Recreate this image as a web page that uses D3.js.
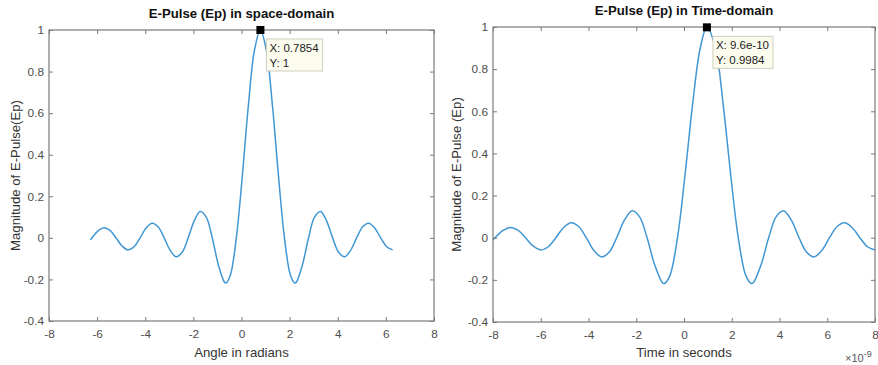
<!DOCTYPE html>
<html>
<head>
<meta charset="utf-8">
<script src="https://cdn.jsdelivr.net/npm/d3@7"></script>
<style>
  html, body { margin: 0; padding: 0; background: #fff; }
  svg { display: block; font-family: "Liberation Sans", Arial, Helvetica, sans-serif; }
</style>
</head>
<body>
<svg id="chart" width="878" height="365"></svg>
<script>
// ---------- DATA ----------
// Left panel: angle (radians) vs magnitude
const angle = [-6.2832,-6.2146,-5.9646,-5.7146,-5.4646,-5.2146,-4.9646,-4.7146,-4.4646,-4.2146,
  -3.9646,-3.7146,-3.4646,-3.2146,-2.9646,-2.7146,-2.4646,-2.2146,-1.9646,-1.7146,-1.4646,-1.2146,
  -0.9646,-0.7146,-0.6446,-0.4646,-0.2146,0.0354,0.2854,0.5354,0.7854,1.0354,1.2854,1.5354,1.7854,
  2.0354,2.2154,2.2854,2.5354,2.7854,3.0354,3.2854,3.5354,3.7854,4.0354,4.2854,4.5354,4.7854,
  5.0354,5.2854,5.5354,5.7854,6.0354,6.2832];
const magSpace = [-0.0098,0,0.0333,0.0490,0.0360,0,-0.0391,-0.0579,-0.0429,0,
  0.0474,0.0707,0.0530,0,-0.0600,-0.0909,-0.0693,0,0.0818,0.1273,0.1000,0,
  -0.1286,-0.2122,-0.2172,-0.1801,0,0.3001,0.6366,0.9003,1,0.9003,0.6366,0.3001,0,
  -0.1801,-0.2172,-0.2122,-0.1286,0,0.1000,0.1273,0.0818,0,-0.0693,-0.0909,-0.0600,0,
  0.0530,0.0707,0.0474,0,-0.0429,-0.0579];

// Right panel: time (units of 1e-9 s) vs magnitude
const timeNs = [-8,-7.9127,-7.5944,-7.2761,-6.9577,-6.6394,-6.3211,-6.0028,-5.6845,-5.3662,
  -5.0479,-4.7296,-4.4113,-4.0930,-3.7746,-3.4563,-3.1380,-2.8197,-2.5014,-2.1831,-1.8648,-1.5465,
  -1.2282,-0.9099,-0.8207,-0.5915,-0.2732,0.0451,0.3634,0.6817,0.96,1.3183,1.6366,1.9549,2.2732,
  2.5915,2.8207,2.9099,3.2282,3.5465,3.8648,4.1831,4.5014,4.8197,5.1380,5.4563,5.7746,6.0930,
  6.4113,6.7296,7.0479,7.3662,7.6845,8];
const magTime = [-0.0098,0,0.0333,0.0490,0.0360,0,-0.0391,-0.0579,-0.0429,0,
  0.0474,0.0707,0.0530,0,-0.0600,-0.0909,-0.0693,0,0.0818,0.1273,0.1000,0,
  -0.1286,-0.2122,-0.2172,-0.1801,0,0.3001,0.6366,0.9003,0.9984,0.9003,0.6366,0.3001,0,
  -0.1801,-0.2172,-0.2122,-0.1286,0,0.1000,0.1273,0.0818,0,-0.0693,-0.0909,-0.0600,0,
  0.0530,0.0707,0.0474,0,-0.0429,-0.0579];

const xTicks = [-8,-6,-4,-2,0,2,4,6,8];
const yTicks = [-0.4,-0.2,0,0.2,0.4,0.6,0.8,1];
const titles = ["E-Pulse (Ep) in space-domain", "E-Pulse (Ep) in Time-domain"];
const xLabels = ["Angle in radians", "Time in seconds"];
const yLabels = ["Magnitude of E-Pulse(Ep)", "Magnitude of E-Pulse (Ep)"];
const tipX = [0.7854, 0.96];
const tipY = [1, 0.9984];
const tipText = [["X: 0.7854", "Y: 1"], ["X: 9.6e-10", "Y: 0.9984"]];

// ---------- DRAW ----------
const svg = d3.select("#chart");
const panels = [
  {x0: 49, x1: 434, y0: 30, y1: 321, xs: angle, ys: magSpace, ylabX: 20},
  {x0: 493, x1: 875, y0: 27, y1: 322, xs: timeNs, ys: magTime, ylabX: 461}
];
const axisColor = "#7a7a7a";
const tickTextColor = "#4d4d4d";
const fmt = d => String(+(+d).toFixed(1));

panels.forEach((p, i) => {
  const x = d3.scaleLinear().domain([-8, 8]).range([p.x0, p.x1]);
  const y = d3.scaleLinear().domain([-0.4, 1]).range([p.y1, p.y0]);
  const g = svg.append("g");

  // curve
  const pts = p.xs.map((v, k) => [v, p.ys[k]]);
  g.append("path")
    .datum(pts)
    .attr("fill", "none")
    .attr("stroke", "#4097d3")
    .attr("stroke-width", 1.5)
    .attr("d", d3.line().x(d => x(d[0])).y(d => y(d[1])).curve(d3.curveCatmullRom.alpha(0.5)));

  // axes (ticks inward on all sides)
  const styleAxis = sel => {
    sel.select(".domain").remove();
    sel.selectAll(".tick line").attr("stroke", axisColor);
    sel.selectAll(".tick text").attr("fill", tickTextColor).style("font-size", "11.8px")
      .style("font-family", '"Liberation Sans", Arial, sans-serif');
  };
  g.append("g").attr("transform", `translate(0,${p.y1})`)
    .call(d3.axisBottom(x).tickValues(xTicks).tickSize(-4).tickPadding(9).tickFormat(fmt)).call(styleAxis);
  g.append("g").attr("transform", `translate(0,${p.y0})`)
    .call(d3.axisTop(x).tickValues(xTicks).tickSize(-4).tickFormat("")).call(styleAxis);
  g.append("g").attr("transform", `translate(${p.x0},0)`)
    .call(d3.axisLeft(y).tickValues(yTicks).tickSize(-4).tickPadding(5).tickFormat(fmt)).call(styleAxis);
  g.append("g").attr("transform", `translate(${p.x1},0)`)
    .call(d3.axisRight(y).tickValues(yTicks).tickSize(-4).tickFormat("")).call(styleAxis);

  // box
  g.append("rect")
    .attr("x", p.x0).attr("y", p.y0)
    .attr("width", p.x1 - p.x0).attr("height", p.y1 - p.y0)
    .attr("fill", "none").attr("stroke", axisColor).attr("stroke-width", 1.2);

  // title
  g.append("text")
    .attr("x", (p.x0 + p.x1) / 2).attr("y", p.y0 - 12)
    .attr("text-anchor", "middle")
    .style("font-size", "13.2px").style("font-weight", "bold").attr("fill", "#111")
    .text(titles[i]);

  // x label
  g.append("text")
    .attr("x", (p.x0 + p.x1) / 2).attr("y", 357)
    .attr("text-anchor", "middle")
    .style("font-size", "13.2px").attr("fill", "#333")
    .text(xLabels[i]);

  // y label
  g.append("text")
    .attr("transform", `translate(${p.ylabX},${(p.y0 + p.y1) / 2}) rotate(-90)`)
    .attr("text-anchor", "middle")
    .style("font-size", "13.2px").attr("fill", "#333")
    .text(yLabels[i]);

  // data tip
  const mx = x(tipX[i]), my = y(tipY[i]);
  const tip = g.append("g");
  const box = tip.append("rect")
    .attr("fill", "#fcfcee").attr("stroke", "#cfcfc0").attr("stroke-width", 1);
  const t1 = tip.append("text").attr("x", mx + 9).attr("y", my + 22)
    .style("font-size", "11.5px").attr("fill", "#222").text(tipText[i][0]);
  const t2 = tip.append("text").attr("x", mx + 9).attr("y", my + 37)
    .style("font-size", "11.5px").attr("fill", "#222").text(tipText[i][1]);
  const w = Math.max(t1.node().getComputedTextLength(), t2.node().getComputedTextLength());
  box.attr("x", mx + 6).attr("y", my + 9).attr("width", w + 7).attr("height", 32);
  g.append("rect")
    .attr("x", mx - 4).attr("y", my - 4).attr("width", 8).attr("height", 8)
    .attr("fill", "#000");
});

// x10^-9 exponent label on right panel
const ex = svg.append("text").attr("x", 845).attr("y", 362)
  .style("font-size", "11px").attr("fill", "#555");
ex.append("tspan").text("×10");
ex.append("tspan").attr("dy", -5).style("font-size", "9px").text("-9");
</script>
</body>
</html>
